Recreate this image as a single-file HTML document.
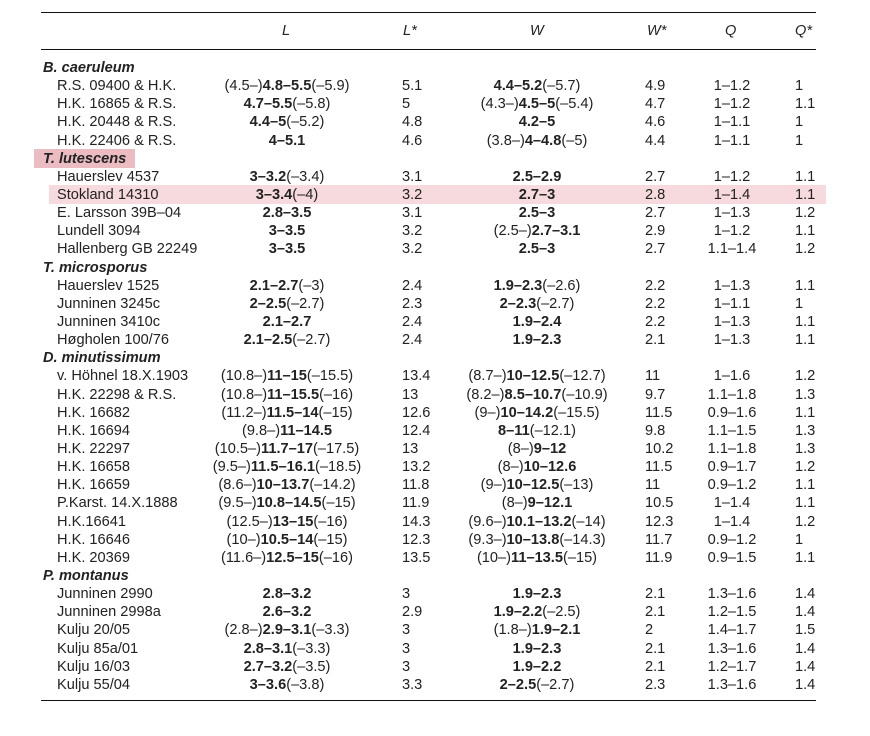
<!DOCTYPE html>
<html><head><meta charset="utf-8"><style>
body{margin:0;background:#fff;width:870px;height:736px;position:relative;overflow:hidden;font-family:"Liberation Sans",Arial,sans-serif;font-size:14.6px;color:#222}
.hl{position:absolute;left:41px;width:775px;height:1px;background:#111}
.rows{position:absolute;top:59px;left:0;width:870px}
.r{position:relative;height:18.15px;line-height:18px;white-space:nowrap}
.r span{position:absolute;top:0}
.n{left:57px}
.g{left:43px;font-weight:bold;font-style:italic}
.L{left:287px;transform:translateX(-50%)}
.Ls{left:402px}
.W{left:537px;transform:translateX(-50%)}
.Ws{left:645px}
.Q{left:732px;transform:translateX(-50%)}
.Qs{left:795px}
.hd{position:absolute;top:22px;font-style:italic;line-height:18px}
</style></head><body>
<div class="hl" style="top:12px"></div>
<div class="hl" style="top:49px"></div>
<div class="hl" style="top:700px"></div>
<div class="hd" style="left:282px">L</div>
<div class="hd" style="left:403px">L*</div>
<div class="hd" style="left:530px">W</div>
<div class="hd" style="left:647px">W*</div>
<div class="hd" style="left:725px">Q</div>
<div class="hd" style="left:795px">Q*</div>
<div style="position:absolute;left:34px;top:149px;width:101px;height:19px;background:#ebbcc1"></div>
<div style="position:absolute;left:49px;top:185px;width:777px;height:19px;background:#f7dadd"></div>
<div class="rows">
<div class="r"><span class="g">B. caeruleum</span></div>
<div class="r"><span class="n">R.S. 09400 &amp; H.K.</span><span class="L">(4.5–)<b>4.8–5.5</b>(–5.9)</span><span class="Ls">5.1</span><span class="W"><b>4.4–5.2</b>(–5.7)</span><span class="Ws">4.9</span><span class="Q">1–1.2</span><span class="Qs">1</span></div>
<div class="r"><span class="n">H.K. 16865 &amp; R.S.</span><span class="L"><b>4.7–5.5</b>(–5.8)</span><span class="Ls">5</span><span class="W">(4.3–)<b>4.5–5</b>(–5.4)</span><span class="Ws">4.7</span><span class="Q">1–1.2</span><span class="Qs">1.1</span></div>
<div class="r"><span class="n">H.K. 20448 &amp; R.S.</span><span class="L"><b>4.4–5</b>(–5.2)</span><span class="Ls">4.8</span><span class="W"><b>4.2–5</b></span><span class="Ws">4.6</span><span class="Q">1–1.1</span><span class="Qs">1</span></div>
<div class="r"><span class="n">H.K. 22406 &amp; R.S.</span><span class="L"><b>4–5.1</b></span><span class="Ls">4.6</span><span class="W">(3.8–)<b>4–4.8</b>(–5)</span><span class="Ws">4.4</span><span class="Q">1–1.1</span><span class="Qs">1</span></div>
<div class="r"><span class="g">T. lutescens</span></div>
<div class="r"><span class="n">Hauerslev 4537</span><span class="L"><b>3–3.2</b>(–3.4)</span><span class="Ls">3.1</span><span class="W"><b>2.5–2.9</b></span><span class="Ws">2.7</span><span class="Q">1–1.2</span><span class="Qs">1.1</span></div>
<div class="r"><span class="n">Stokland 14310</span><span class="L"><b>3–3.4</b>(–4)</span><span class="Ls">3.2</span><span class="W"><b>2.7–3</b></span><span class="Ws">2.8</span><span class="Q">1–1.4</span><span class="Qs">1.1</span></div>
<div class="r"><span class="n">E. Larsson 39B–04</span><span class="L"><b>2.8–3.5</b></span><span class="Ls">3.1</span><span class="W"><b>2.5–3</b></span><span class="Ws">2.7</span><span class="Q">1–1.3</span><span class="Qs">1.2</span></div>
<div class="r"><span class="n">Lundell 3094</span><span class="L"><b>3–3.5</b></span><span class="Ls">3.2</span><span class="W">(2.5–)<b>2.7–3.1</b></span><span class="Ws">2.9</span><span class="Q">1–1.2</span><span class="Qs">1.1</span></div>
<div class="r"><span class="n">Hallenberg GB 22249</span><span class="L"><b>3–3.5</b></span><span class="Ls">3.2</span><span class="W"><b>2.5–3</b></span><span class="Ws">2.7</span><span class="Q">1.1–1.4</span><span class="Qs">1.2</span></div>
<div class="r"><span class="g">T. microsporus</span></div>
<div class="r"><span class="n">Hauerslev 1525</span><span class="L"><b>2.1–2.7</b>(–3)</span><span class="Ls">2.4</span><span class="W"><b>1.9–2.3</b>(–2.6)</span><span class="Ws">2.2</span><span class="Q">1–1.3</span><span class="Qs">1.1</span></div>
<div class="r"><span class="n">Junninen 3245c</span><span class="L"><b>2–2.5</b>(–2.7)</span><span class="Ls">2.3</span><span class="W"><b>2–2.3</b>(–2.7)</span><span class="Ws">2.2</span><span class="Q">1–1.1</span><span class="Qs">1</span></div>
<div class="r"><span class="n">Junninen 3410c</span><span class="L"><b>2.1–2.7</b></span><span class="Ls">2.4</span><span class="W"><b>1.9–2.4</b></span><span class="Ws">2.2</span><span class="Q">1–1.3</span><span class="Qs">1.1</span></div>
<div class="r"><span class="n">Høgholen 100/76</span><span class="L"><b>2.1–2.5</b>(–2.7)</span><span class="Ls">2.4</span><span class="W"><b>1.9–2.3</b></span><span class="Ws">2.1</span><span class="Q">1–1.3</span><span class="Qs">1.1</span></div>
<div class="r"><span class="g">D. minutissimum</span></div>
<div class="r"><span class="n">v. Höhnel 18.X.1903</span><span class="L">(10.8–)<b>11–15</b>(–15.5)</span><span class="Ls">13.4</span><span class="W">(8.7–)<b>10–12.5</b>(–12.7)</span><span class="Ws">11</span><span class="Q">1–1.6</span><span class="Qs">1.2</span></div>
<div class="r"><span class="n">H.K. 22298 &amp; R.S.</span><span class="L">(10.8–)<b>11–15.5</b>(–16)</span><span class="Ls">13</span><span class="W">(8.2–)<b>8.5–10.7</b>(–10.9)</span><span class="Ws">9.7</span><span class="Q">1.1–1.8</span><span class="Qs">1.3</span></div>
<div class="r"><span class="n">H.K. 16682</span><span class="L">(11.2–)<b>11.5–14</b>(–15)</span><span class="Ls">12.6</span><span class="W">(9–)<b>10–14.2</b>(–15.5)</span><span class="Ws">11.5</span><span class="Q">0.9–1.6</span><span class="Qs">1.1</span></div>
<div class="r"><span class="n">H.K. 16694</span><span class="L">(9.8–)<b>11–14.5</b></span><span class="Ls">12.4</span><span class="W"><b>8–11</b>(–12.1)</span><span class="Ws">9.8</span><span class="Q">1.1–1.5</span><span class="Qs">1.3</span></div>
<div class="r"><span class="n">H.K. 22297</span><span class="L">(10.5–)<b>11.7–17</b>(–17.5)</span><span class="Ls">13</span><span class="W">(8–)<b>9–12</b></span><span class="Ws">10.2</span><span class="Q">1.1–1.8</span><span class="Qs">1.3</span></div>
<div class="r"><span class="n">H.K. 16658</span><span class="L">(9.5–)<b>11.5–16.1</b>(–18.5)</span><span class="Ls">13.2</span><span class="W">(8–)<b>10–12.6</b></span><span class="Ws">11.5</span><span class="Q">0.9–1.7</span><span class="Qs">1.2</span></div>
<div class="r"><span class="n">H.K. 16659</span><span class="L">(8.6–)<b>10–13.7</b>(–14.2)</span><span class="Ls">11.8</span><span class="W">(9–)<b>10–12.5</b>(–13)</span><span class="Ws">11</span><span class="Q">0.9–1.2</span><span class="Qs">1.1</span></div>
<div class="r"><span class="n">P.Karst. 14.X.1888</span><span class="L">(9.5–)<b>10.8–14.5</b>(–15)</span><span class="Ls">11.9</span><span class="W">(8–)<b>9–12.1</b></span><span class="Ws">10.5</span><span class="Q">1–1.4</span><span class="Qs">1.1</span></div>
<div class="r"><span class="n">H.K.16641</span><span class="L">(12.5–)<b>13–15</b>(–16)</span><span class="Ls">14.3</span><span class="W">(9.6–)<b>10.1–13.2</b>(–14)</span><span class="Ws">12.3</span><span class="Q">1–1.4</span><span class="Qs">1.2</span></div>
<div class="r"><span class="n">H.K. 16646</span><span class="L">(10–)<b>10.5–14</b>(–15)</span><span class="Ls">12.3</span><span class="W">(9.3–)<b>10–13.8</b>(–14.3)</span><span class="Ws">11.7</span><span class="Q">0.9–1.2</span><span class="Qs">1</span></div>
<div class="r"><span class="n">H.K. 20369</span><span class="L">(11.6–)<b>12.5–15</b>(–16)</span><span class="Ls">13.5</span><span class="W">(10–)<b>11–13.5</b>(–15)</span><span class="Ws">11.9</span><span class="Q">0.9–1.5</span><span class="Qs">1.1</span></div>
<div class="r"><span class="g">P. montanus</span></div>
<div class="r"><span class="n">Junninen 2990</span><span class="L"><b>2.8–3.2</b></span><span class="Ls">3</span><span class="W"><b>1.9–2.3</b></span><span class="Ws">2.1</span><span class="Q">1.3–1.6</span><span class="Qs">1.4</span></div>
<div class="r"><span class="n">Junninen 2998a</span><span class="L"><b>2.6–3.2</b></span><span class="Ls">2.9</span><span class="W"><b>1.9–2.2</b>(–2.5)</span><span class="Ws">2.1</span><span class="Q">1.2–1.5</span><span class="Qs">1.4</span></div>
<div class="r"><span class="n">Kulju 20/05</span><span class="L">(2.8–)<b>2.9–3.1</b>(–3.3)</span><span class="Ls">3</span><span class="W">(1.8–)<b>1.9–2.1</b></span><span class="Ws">2</span><span class="Q">1.4–1.7</span><span class="Qs">1.5</span></div>
<div class="r"><span class="n">Kulju 85a/01</span><span class="L"><b>2.8–3.1</b>(–3.3)</span><span class="Ls">3</span><span class="W"><b>1.9–2.3</b></span><span class="Ws">2.1</span><span class="Q">1.3–1.6</span><span class="Qs">1.4</span></div>
<div class="r"><span class="n">Kulju 16/03</span><span class="L"><b>2.7–3.2</b>(–3.5)</span><span class="Ls">3</span><span class="W"><b>1.9–2.2</b></span><span class="Ws">2.1</span><span class="Q">1.2–1.7</span><span class="Qs">1.4</span></div>
<div class="r"><span class="n">Kulju 55/04</span><span class="L"><b>3–3.6</b>(–3.8)</span><span class="Ls">3.3</span><span class="W"><b>2–2.5</b>(–2.7)</span><span class="Ws">2.3</span><span class="Q">1.3–1.6</span><span class="Qs">1.4</span></div>
</div>
</body></html>
